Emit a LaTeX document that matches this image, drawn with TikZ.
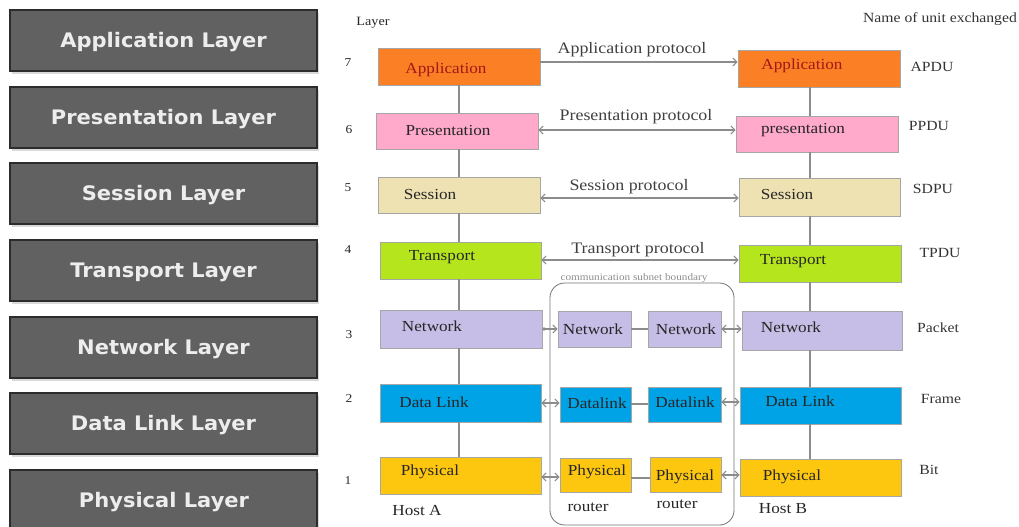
\documentclass[tikz,border=0pt]{standalone}
\usepackage{fontspec}
\setmainfont{Liberation Serif}[FakeStretch=1.12]
\newfontfamily\layerfont{DejaVu Sans}[FakeStretch=1.05]
\usetikzlibrary{fit,shadows,arrows.meta}

\definecolor{appfill}{HTML}{FB8025}
\definecolor{apptext}{HTML}{A01818}
\definecolor{prefill}{HTML}{FFAACB}
\definecolor{sesfill}{HTML}{EFE2B2}
\definecolor{trafill}{HTML}{B5E51D}
\definecolor{netfill}{HTML}{C6BEE6}
\definecolor{dlfill}{HTML}{00A3E6}
\definecolor{phyfill}{HTML}{FEC70F}
\definecolor{osifill}{HTML}{616161}
\definecolor{osiedge}{HTML}{2C2C2C}
\definecolor{linkgray}{HTML}{8C8C8C}

\tikzset{
  osibox/.style={draw=osiedge, line width=1.2pt, fill=osifill, inner sep=0pt,
    drop shadow={shadow xshift=1.5pt, shadow yshift=-2.5pt, opacity=0.3, fill=black!50}},
  ositext/.style={inner sep=0pt, text=white!93!black, yshift=-1.5pt,
    font=\layerfont\bfseries\fontsize{15}{18}\selectfont},
  hostbox/.style={draw=black!35, line width=0.6pt, inner sep=0pt},
  boxtext/.style={inner sep=0pt, text=black!85, font=\fontsize{11.5}{13}\selectfont},
  prototext/.style={inner sep=0pt, text=black!75, font=\fontsize{12}{14}\selectfont},
  unittext/.style={inner sep=0pt, text=black!80, font=\fontsize{10.5}{12}\selectfont},
  numtext/.style={inner sep=0pt, text=black!85, font=\fontsize{9}{11}\selectfont},
  stack/.style={draw=linkgray, line width=0.8pt},
  proto/.style={draw=linkgray, line width=0.8pt,
    >={Straight Barb[length=3pt,width=6pt]}},
  subnet/.style={draw=black!55, line width=0.6pt, rounded corners=11pt, inner sep=0pt}
}

\begin{document}
\begin{tikzpicture}[x=0.75pt,y=-0.75pt]
\useasboundingbox (0,0) rectangle (1019,526);

% OSI layer list on the left
\node[osibox, fit={(10,10)(317,71)}]   (L7) {};
\node[osibox, fit={(10,87)(317,148)}]  (L6) {};
\node[osibox, fit={(10,163)(317,224)}] (L5) {};
\node[osibox, fit={(10,240)(317,301)}] (L4) {};
\node[osibox, fit={(10,317)(317,378)}] (L3) {};
\node[osibox, fit={(10,393)(317,454)}] (L2) {};
\node[osibox, fit={(10,470)(317,532)}] (L1) {};
\node[ositext] (L7t) at (L7.center) {Application Layer};
\node[ositext] (L6t) at (L6.center) {Presentation Layer};
\node[ositext] (L5t) at (L5.center) {Session Layer};
\node[ositext] (L4t) at (L4.center) {Transport Layer};
\node[ositext] (L3t) at (L3.center) {Network Layer};
\node[ositext] (L2t) at (L2.center) {Data Link Layer};
\node[ositext] (L1t) at (164,500) {Physical Layer};

% headings
\node[numtext, font=\fontsize{9.5}{11}\selectfont] (hdLayer) at (373,23) {Layer};
\node[unittext] (hdUnit) at (940,19) {Name of unit exchanged};

% layer numbers
\node[numtext] (n7) at (348,63) {7};
\node[numtext] (n6) at (349,130) {6};
\node[numtext] (n5) at (348,188) {5};
\node[numtext] (n4) at (348,250) {4};
\node[numtext] (n3) at (349,335) {3};
\node[numtext] (n2) at (349,399) {2};
\node[numtext] (n1) at (348,481) {1};

% Host A stack
\node[hostbox, fill=appfill, fit={(378,48)(540,85)}]  (a7) {};
\node[hostbox, fill=prefill, fit={(376,113)(538,149)}] (a6) {};
\node[hostbox, fill=sesfill, fit={(378,177)(540,213)}] (a5) {};
\node[hostbox, fill=trafill, fit={(380,242)(541,279)}] (a4) {};
\node[hostbox, fill=netfill, fit={(380,310)(542,348)}] (a3) {};
\node[hostbox, fill=dlfill,  fit={(380,384)(541,422)}] (a2) {};
\node[hostbox, fill=phyfill, fit={(380,457)(541,494)}] (a1) {};
\node[boxtext, text=apptext] (ta7) at (446,70) {Application};
\node[boxtext] (ta6) at (448,130) {Presentation};
\node[boxtext] (ta5) at (430,194) {Session};
\node[boxtext] (ta4) at (442,257) {Transport};
\node[boxtext] (ta3) at (432,326) {Network};
\node[boxtext] (ta2) at (434,402) {Data Link};
\node[boxtext] (ta1) at (430,472) {Physical};
\node[boxtext] (hostA) at (417,510) {Host A};

% Host B stack
\node[hostbox, fill=appfill, fit={(738,50)(900,87)}]  (b7) {};
\node[hostbox, fill=prefill, fit={(736,116)(898,152)}] (b6) {};
\node[hostbox, fill=sesfill, fit={(739,178)(900,216)}] (b5) {};
\node[hostbox, fill=trafill, fit={(739,245)(901,282)}] (b4) {};
\node[hostbox, fill=netfill, fit={(742,311)(902,350)}] (b3) {};
\node[hostbox, fill=dlfill,  fit={(740,387)(901,424)}] (b2) {};
\node[hostbox, fill=phyfill, fit={(740,459)(901,496)}] (b1) {};
\node[boxtext, text=apptext] (tb7) at (802,66) {Application};
\node[boxtext] (tb6) at (803,130) {presentation};
\node[boxtext] (tb5) at (787,194) {Session};
\node[boxtext] (tb4) at (793,261) {Transport};
\node[boxtext] (tb3) at (791,327) {Network};
\node[boxtext] (tb2) at (800,401) {Data Link};
\node[boxtext] (tb1) at (792,477) {Physical};
\node[boxtext] (hostB) at (783,509) {Host B};

% units exchanged
\node[unittext] (u7) at (932,67) {APDU};
\node[unittext] (u6) at (929,126) {PPDU};
\node[unittext] (u5) at (933,189) {SDPU};
\node[unittext] (u4) at (940,253) {TPDU};
\node[unittext] (u3) at (938,328) {Packet};
\node[unittext] (u2) at (941,399) {Frame};
\node[unittext] (u1) at (929,470) {Bit};

% communication subnet with two routers
\node[subnet, fit={(550,283)(734,525)}] (sub) {};
\node[inner sep=0pt, text=black!45, font=\fontsize{7.5}{9}\selectfont] (subtext) at (634,278) {communication subnet boundary};
\node[hostbox, fill=netfill, fit={(558,311)(631,347)}] (r3) {};
\node[hostbox, fill=netfill, fit={(648,311)(721,347)}] (s3) {};
\node[hostbox, fill=dlfill,  fit={(560,387)(631,422)}] (r2) {};
\node[hostbox, fill=dlfill,  fit={(648,387)(721,422)}] (s2) {};
\node[hostbox, fill=phyfill, fit={(560,458)(631,492)}] (r1) {};
\node[hostbox, fill=phyfill, fit={(650,457)(721,492)}] (s1) {};
\node[boxtext] (tr3) at (593,329) {Network};
\node[boxtext] (ts3) at (686,329) {Network};
\node[boxtext] (tr2) at (597,403) {Datalink};
\node[boxtext] (ts2) at (685,402) {Datalink};
\node[boxtext] (tr1) at (597,472) {Physical};
\node[boxtext] (ts1) at (685,477) {Physical};
\node[boxtext] (rt1) at (588,507) {router};
\node[boxtext] (rt2) at (677,504) {router};

% vertical links inside each host
\coordinate (xa) at (459,0);
\coordinate (xb) at (810,0);
\foreach \u/\l in {7/6,6/5,5/4,4/3,3/2,2/1}{
  \draw[stack] (a\u.south -| xa) -- (a\l.north -| xa);
  \draw[stack] (b\u.south -| xb) -- (b\l.north -| xb);
}

% peer protocols
\draw[proto, ->]  (a7.east |- 0,62)  -- (b7.west |- 0,62);
\draw[proto, <->] (a6.east |- 0,130) -- (b6.west |- 0,130);
\draw[proto, <->] (a5.east |- 0,198) -- (b5.west |- 0,198);
\draw[proto, <->] (a4.east |- 0,260) -- (b4.west |- 0,260);
\node[prototext] (p7) at (632,50)  {Application protocol};
\node[prototext] (p6) at (636,117) {Presentation protocol};
\node[prototext] (p5) at (629,187) {Session protocol};
\node[prototext] (p4) at (638,250) {Transport protocol};

% hop-by-hop links through the routers
\draw[proto, {Circle[length=2.5pt]}->] (a3.east |- 0,329) -- (r3.west |- 0,329);
\draw[proto] (r3.east |- 0,329) -- (s3.west |- 0,329);
\draw[proto, <->] (s3.east |- 0,329) -- (b3.west |- 0,329);
\draw[proto, <->] (a2.east |- 0,403) -- (r2.west |- 0,403);
\draw[proto] (r2.east |- 0,404) -- (s2.west |- 0,404);
\draw[proto, <->] (s2.east |- 0,402) -- (b2.west |- 0,402);
\draw[proto, <->] (a1.east |- 0,477) -- (r1.west |- 0,477);
\draw[proto] (r1.east |- 0,478) -- (s1.west |- 0,478);
\draw[proto, <->] (s1.east |- 0,475) -- (b1.west |- 0,475);
\end{tikzpicture}
\end{document}
